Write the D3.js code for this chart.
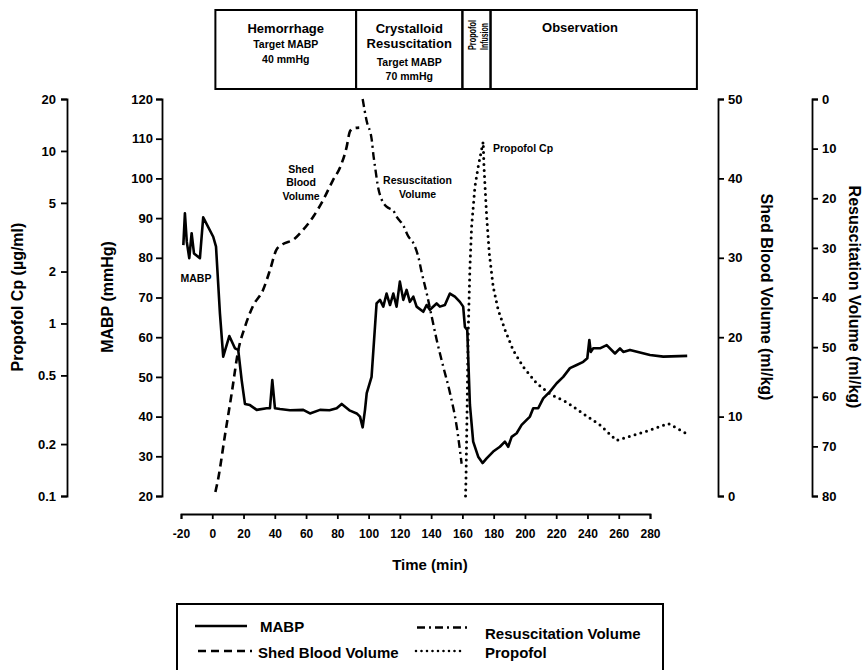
<!DOCTYPE html>
<html>
<head>
<meta charset="utf-8">
<script src="https://cdn.jsdelivr.net/npm/d3@7"></script>
<style>
	body { margin: 0; background: #fff; }
	svg text { font-family: 'Liberation Sans', Arial, sans-serif; font-weight: bold; fill: #000; }
</style>
</head>
<body>
<div id="chart"></div>
<script>

// time (min) vs mean arterial blood pressure (mmHg)
var mabp_time = [-18.5,-17.5,-16.3,-14.7,-13.2,-11.7,-7.9,-5.8,0.6,2.4,4.9,7.0,10.9,14.5,16.6,18.8,20.9,24.1,28.4,34.8,36.9,38.4,40.1,43.3,49.7,58.2,62.5,68.9,75,79.6,82.8,88.1,92.4,94.5,96.2,97.7,98.8,101.9,105.1,107.3,109.4,111.5,113.7,115.8,117.9,120,122.2,124.3,126.4,128.6,130.7,135,137.1,139.2,143.5,145.6,148.8,152,155.2,158.4,160.5,161.6,163.1,164.8,166.9,170.1,172.9,175.5,179.7,184,187.2,189.3,191.5,194.7,197.9,203.2,205.3,208.5,211.7,216,220.3,224.5,228.8,233.1,237.3,239.9,241.2,242.1,243.7,248,252.3,257.6,260.8,262.9,267.2,280,288.5,303.8]
var mabp_value = [83.2,91.2,84,79.9,86.2,81.1,79.9,90.2,85.3,82.8,66,55.1,60.3,57.2,56.8,49.2,43.2,42.9,41.7,42.1,42.1,49.2,42.1,41.9,41.6,41.7,40.8,41.7,41.6,42.1,43.2,41.5,40.8,40,37.3,41.7,45.9,50,68.5,69.4,67.7,71,68.1,71,67.7,74,69.4,71.9,68.9,70.2,67.7,66.4,68.1,66.9,68.5,67.7,68.1,71,70.2,68.9,67.7,62.6,61.8,43,33.7,29.9,28.3,29.5,31.2,32.4,33.7,32.4,34.9,35.8,37.9,40,42.1,42.1,44.6,46.3,48.4,50,52.2,53,53.8,54.7,59.3,56.3,57.2,57.2,58,55.9,57.2,56.3,56.8,55.5,55.1,55.3]

// shed blood volume (ml/kg)
var shed_time = [2,4,8,12.4,16.7,20.9,26,32.6,37,41,45,52,58,65,71,77,82,86,88,90,94]
var shed_value = [0.5,2.4,7.5,12.9,18.4,21.3,23.9,26,28.5,31,31.7,32.3,33.5,35.3,37.3,39.7,41.5,44,45.9,46.3,46.4]

// resuscitation volume (ml/kg), axis inverted
var resus_time = [96.2,98.8,102,103.2,104.1,106.2,108.4,111.5,115.8,117.9,122.2,125.4,128.6,131.8,134,137.2,140.4,143.6,147.8,152.1,156.4,159.5]
var resus_value = [0,4.5,8.2,11.6,13.6,18,20.3,21.7,22.5,23.7,25.5,27.7,29,31.8,35,39.2,43.9,48.6,54,59.3,66.1,73.5]

// propofol plasma concentration (ug/ml), log axis
var prop_time = [162,162.3,163.1,163.7,164.8,165.9,168,170.1,172.3,173.3,173.8,175.5,177.2,179.7,182.9,187.2,192.5,198.9,207.5,216,226.7,237.3,248,258.6,269.3,280,291.7,303.4]
var prop_value = [0.1,0.126,0.36,0.88,2.1,3.65,6.2,8.1,10.2,11.3,8.1,4.2,2.55,1.63,1.2,0.92,0.7,0.56,0.45,0.39,0.35,0.3,0.258,0.21,0.225,0.241,0.263,0.23]

// study phases along the top
var phase_start = [2,92,160,178]
var phase_end = [92,160,178,310]
var phase_lines = [
	['Hemorrhage','Target MABP','40 mmHg'],
	['Crystalloid','Resuscitation','Target MABP','70 mmHg'],
	['Propofol','Infusion'],
	['Observation']
]

// tick values
var time_ticks = d3.range(-20, 281, 20)
var mabp_ticks = d3.range(20, 121, 10)
var prop_ticks = [0.1,0.2,0.5,1,2,5,10,20]
var shed_ticks = [0,10,20,30,40,50]
var resus_ticks = [0,10,20,30,40,50,60,70,80]

var width = 864, height = 670
var plot_top = 99, plot_bottom = 496

var svg = d3.select('#chart').append('svg')
	.attr('width', width)
	.attr('height', height)

// scales
var x = d3.scaleLinear().domain([-20,280]).range([181,650])
var y_mabp = d3.scaleLinear().domain([20,120]).range([plot_bottom,plot_top])
var y_prop = d3.scaleLog().domain([0.1,20]).range([plot_bottom,plot_top])
var y_shed = d3.scaleLinear().domain([0,50]).range([plot_bottom,plot_top])
var y_resus = d3.scaleLinear().domain([0,80]).range([plot_top,plot_bottom])

var plain = function(d){ return String(d) }

function style_axis(g, size){
	g.selectAll('path, line').attr('stroke','#000').attr('stroke-width',1.8)
	g.selectAll('text').style('font-size', size + 'px').attr('fill','#000')
	g.attr('font-family', null)
}

// axes
svg.append('g')
	.attr('transform','translate(0,514)')
	.call(d3.axisBottom(x).tickValues(time_ticks).tickFormat(plain).tickSize(5).tickPadding(10))
	.call(style_axis, 12)

svg.append('g')
	.attr('transform','translate(162,0)')
	.call(d3.axisLeft(y_mabp).tickValues(mabp_ticks).tickFormat(plain).tickSize(6).tickPadding(3))
	.call(style_axis, 13)

svg.append('g')
	.attr('transform','translate(67,0)')
	.call(d3.axisLeft(y_prop).tickValues(prop_ticks).tickFormat(plain).tickSize(6).tickPadding(5))
	.call(style_axis, 13)

svg.append('g')
	.attr('transform','translate(718,0)')
	.call(d3.axisRight(y_shed).tickValues(shed_ticks).tickFormat(plain).tickSize(6).tickPadding(4))
	.call(style_axis, 13)

svg.append('g')
	.attr('transform','translate(812,0)')
	.call(d3.axisRight(y_resus).tickValues(resus_ticks).tickFormat(plain).tickSize(6).tickPadding(4))
	.call(style_axis, 13)

// axis titles
svg.append('text')
	.attr('x',430).attr('y',570)
	.attr('text-anchor','middle')
	.style('font-size','15px')
	.text('Time (min)')

svg.append('text')
	.attr('transform','translate(23,297) rotate(-90)')
	.attr('text-anchor','middle')
	.style('font-size','16px')
	.text('Propofol Cp (\u00b5g/ml)')

svg.append('text')
	.attr('transform','translate(113,297) rotate(-90)')
	.attr('text-anchor','middle')
	.style('font-size','16px')
	.text('MABP (mmHg)')

svg.append('text')
	.attr('transform','translate(761,297) rotate(90)')
	.attr('text-anchor','middle')
	.style('font-size','16px')
	.text('Shed Blood Volume (ml/kg)')

svg.append('text')
	.attr('transform','translate(849,297) rotate(90)')
	.attr('text-anchor','middle')
	.style('font-size','16px')
	.text('Resuscitation Volume (ml/kg)')

// series
function zip(a, b){ return a.map(function(d,i){ return [d, b[i]] }) }

var line_mabp = d3.line().x(function(d){ return x(d[0]) }).y(function(d){ return y_mabp(d[1]) })
var line_shed = d3.line().curve(d3.curveMonotoneX).x(function(d){ return x(d[0]) }).y(function(d){ return y_shed(d[1]) })
var line_resus = d3.line().curve(d3.curveMonotoneX).x(function(d){ return x(d[0]) }).y(function(d){ return y_resus(d[1]) })
var line_prop = d3.line().x(function(d){ return x(d[0]) }).y(function(d){ return y_prop(d[1]) })

svg.append('path')
	.attr('d', line_shed(zip(shed_time, shed_value)))
	.attr('fill','none').attr('stroke','#000').attr('stroke-width',2.6)
	.attr('stroke-dasharray','8,5')

svg.append('path')
	.attr('d', line_resus(zip(resus_time, resus_value)))
	.attr('fill','none').attr('stroke','#000').attr('stroke-width',2.4)
	.attr('stroke-dasharray','8,4,2,4')

svg.append('path')
	.attr('d', line_prop(zip(prop_time, prop_value)))
	.attr('fill','none').attr('stroke','#000').attr('stroke-width',3)
	.attr('stroke-linecap','round')
	.attr('stroke-dasharray','0,6')

svg.append('path')
	.attr('d', line_mabp(zip(mabp_time, mabp_value)))
	.attr('fill','none').attr('stroke','#000').attr('stroke-width',2.6)
	.attr('stroke-linejoin','round')

// in-plot labels
function label(lines, cx, y0, anchor){
	var t = svg.append('text')
		.attr('text-anchor', anchor)
		.style('font-size','10.5px')
	lines.forEach(function(s,i){
		t.append('tspan').attr('x',cx).attr('y',y0 + i*13.5).text(s)
	})
}
label(['MABP'], 196, 281.5, 'middle')
label(['Shed','Blood','Volume'], 301, 172.5, 'middle')
label(['Resuscitation','Volume'], 417.5, 184, 'middle')
label(['Propofol Cp'], 493, 151.5, 'start')

// phase boxes
var phases = svg.append('g').attr('class','phases')
phase_start.forEach(function(s,i){
	phases.append('rect')
		.attr('x', x(s)).attr('y',10)
		.attr('width', x(phase_end[i]) - x(s)).attr('height',79)
		.attr('fill','none').attr('stroke','#000').attr('stroke-width',2)
})

var phase_base = [[33,48.3,63.3],[33.3,47.7,66,80],[],[31.7]]
var phase_size = [[13,10.5,10.5],[13,13,10.5,10.5],[],[13]]
;[0,1,3].forEach(function(i){
	var cx = (x(phase_start[i]) + x(phase_end[i])) / 2
	if (i == 3) cx = 580
	phase_lines[i].forEach(function(s,j){
		phases.append('text')
			.attr('x',cx).attr('y',phase_base[i][j])
			.attr('text-anchor','middle')
			.style('font-size', phase_size[i][j] + 'px')
			.text(s)
	})
})
phase_lines[2].forEach(function(s,j){
	phases.append('text')
		.attr('transform','translate(' + (475.5 + j*12.3) + ',50) rotate(-90)')
		.attr('textLength', j == 0 ? 30 : 27)
		.attr('lengthAdjust','spacingAndGlyphs')
		.style('font-size','11.5px')
		.text(s)
})

// legend
var legend = svg.append('g').attr('class','legend')
legend.append('rect')
	.attr('x',177).attr('y',604).attr('width',486).attr('height',90)
	.attr('fill','none').attr('stroke','#000').attr('stroke-width',2)

var legend_names = ['MABP','Shed Blood Volume','Resuscitation Volume','Propofol']
var legend_dash = [null,'8,5','8,4,2,4','0,5.5']
var legend_line = [[195,247,626],[198,252,651],[417,468,627.5],[416,463,651]]
var legend_text = [[260,631.5],[258,657.5],[485,639],[485,657.5]]

legend_names.forEach(function(n,i){
	legend.append('line')
		.attr('x1',legend_line[i][0]).attr('x2',legend_line[i][1])
		.attr('y1',legend_line[i][2]).attr('y2',legend_line[i][2])
		.attr('stroke','#000').attr('stroke-width', i == 3 ? 2.6 : 2.6)
		.attr('stroke-linecap', i == 3 ? 'round' : 'butt')
		.attr('stroke-dasharray', legend_dash[i])
	legend.append('text')
		.attr('x',legend_text[i][0]).attr('y',legend_text[i][1])
		.style('font-size','15px')
		.text(n)
})

</script>
</body>
</html>
